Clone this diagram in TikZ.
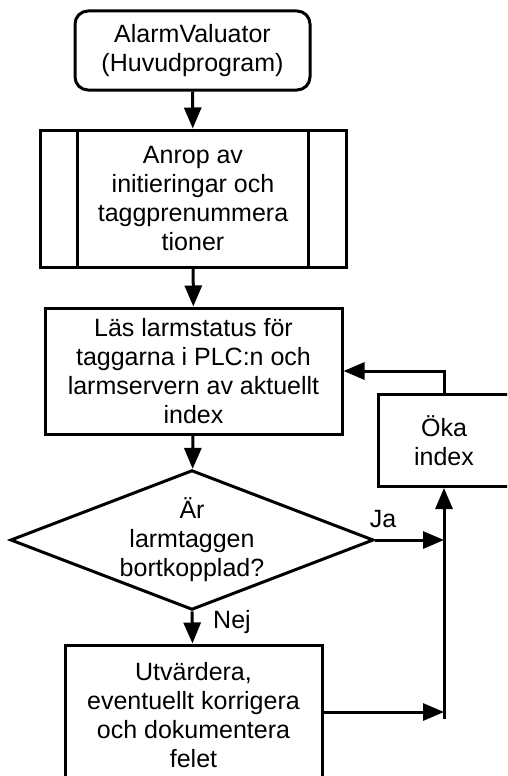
\documentclass[tikz,border=0pt]{standalone}
\usepackage{fontspec}
\setmainfont{Liberation Sans}
\usetikzlibrary{positioning,arrows.meta,shapes.geometric}

\begin{document}
\begin{tikzpicture}[>={Triangle[length=21pt,width=17pt]},x=1pt,y=-1pt,line width=3pt,
    every node/.style={font=\fontsize{25}{29}\selectfont,align=center},
    flowbox/.style={draw,rectangle,inner sep=0pt},
    decbox/.style={draw,diamond,aspect=2.6,inner sep=0pt}]
  % frame (picture is cut at right and bottom)
  \useasboundingbox (0,0) rectangle (507,776);
  \clip (0,0) rectangle (507,776);
  % main column
  \node[flowbox,rounded corners=13pt,minimum width=235pt,minimum height=79pt] (start) at (192.5,50.5) {AlarmValuator\\(Huvudprogram)};
  \node[flowbox,minimum width=306pt,minimum height=137pt] (call) at (193,198.5) {Anrop av\\initieringar och\\taggprenummera\\tioner};
  \draw ([xshift=39pt]call.north west) -- ([xshift=39pt]call.south west);
  \draw ([xshift=-39pt]call.north east) -- ([xshift=-39pt]call.south east);
  \node[flowbox,minimum width=297pt,minimum height=126pt] (read) at (193.5,371) {Läs larmstatus för\\taggarna i PLC:n och\\larmservern av aktuellt\\index};
  \node[decbox,minimum width=357pt,minimum height=136pt] (dec) at (192,540) {Är\\larmtaggen\\bortkopplad?};
  \node[flowbox,minimum width=257pt,minimum height=140pt] (eval) at (193.5,715) {Utvärdera,\\eventuellt korrigera\\och dokumentera\\felet};
  % side loop
  \node[flowbox,minimum width=132pt,minimum height=92pt] (inc) at (444,440.5) {Öka\\index};
  \coordinate (jaend) at (444,540);
  \coordinate (evend) at (444,712);
  \coordinate (railbot) at (444,719);
  % arrows
  \draw[->] (start) -- (call);
  \draw[->] (call) -- (read);
  \draw[->] (read) -- (dec);
  \draw[->] (dec.east) -- (jaend);
  \node (ja) at (383,519) {Ja};
  \draw[->] (dec.south) -- (eval);
  \node (nej) at (232,622) {Nej};
  \draw[->] (eval.east |- evend) -- (evend);
  \draw[->] (railbot) -- (inc.south);
  \draw[->] (inc.north) |- (read.east);
\end{tikzpicture}
\end{document}
